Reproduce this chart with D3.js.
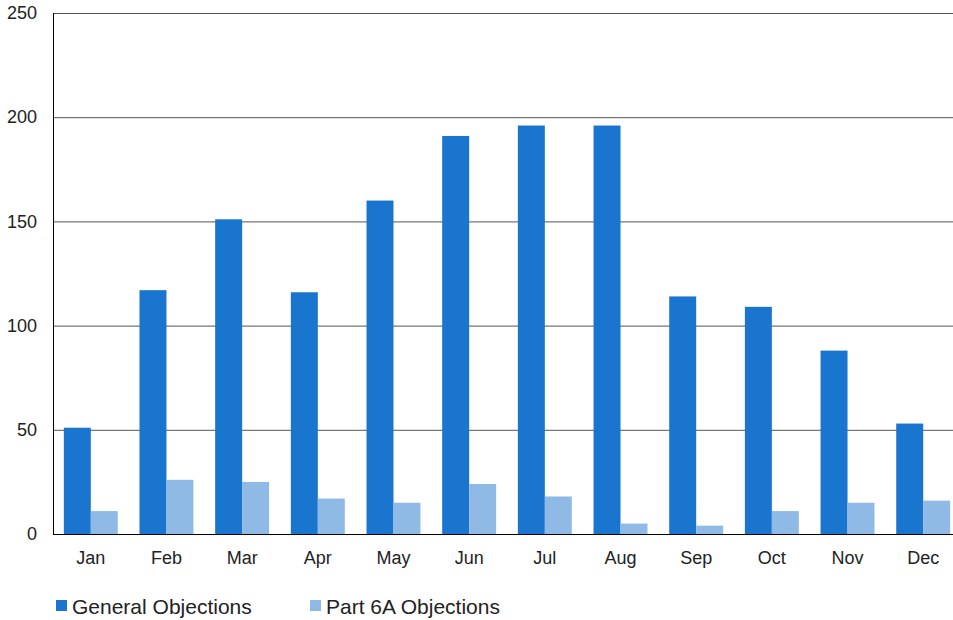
<!DOCTYPE html>
<html><head><meta charset="utf-8">
<script src="https://cdn.jsdelivr.net/npm/d3@7"></script>
<style>body{margin:0;background:#fff}svg{display:block;font-family:"Liberation Sans",Arial,sans-serif}</style>
</head><body><svg id="c" width="953" height="620"></svg>
<script>
const months = ["Jan","Feb","Mar","Apr","May","Jun","Jul","Aug","Sep","Oct","Nov","Dec"];
const generalObjections = [51,117,151,116,160,191,196,196,114,109,88,53];
const part6AObjections = [11,26,25,17,15,24,18,5,4,11,15,16];
const seriesNames = ["General Objections","Part 6A Objections"];
const seriesColors = ["#1a75cf","#8fbae6"];
const yTicks = [0,50,100,150,200,250];

const svg = d3.select("#c");
const L = 53, R = 961, T = 13, B = 534;
const x = d3.scaleBand().domain(months).range([L, R]).paddingInner(0.287).paddingOuter(0.143);
const xs = d3.scaleBand().domain(seriesNames).range([0, x.bandwidth()]);
const y = d3.scaleLinear().domain([0,250]).range([B, T]);

// grid
svg.append("g").selectAll("line").data(yTicks.filter(d=>d>0)).join("line")
  .attr("x1", L).attr("x2", R).attr("y1", d=>y(d)+0.5).attr("y2", d=>y(d)+0.5)
  .attr("stroke", "#555").attr("stroke-width", 1);

// y axis labels
const ya = svg.append("g").attr("transform", `translate(${L},0)`)
  .call(d3.axisLeft(y).tickValues(yTicks).tickSize(0).tickPadding(16));
ya.select(".domain").remove();
ya.selectAll("text").attr("font-size", 18).attr("fill", "#222").attr("font-family", "Liberation Sans, Arial, sans-serif");

const data = [generalObjections, part6AObjections];
const g = svg.append("g");
months.forEach((m, i) => {
  seriesNames.forEach((s, j) => {
    g.append("rect")
      .attr("x", x(m) + xs(s)).attr("width", xs.bandwidth())
      .attr("y", y(data[j][i])).attr("height", B - y(data[j][i]))
      .attr("fill", seriesColors[j]);
  });
});

// axes lines
svg.append("line").attr("x1", L+0.5).attr("x2", L+0.5).attr("y1", T).attr("y2", B+1).attr("stroke", "#000");
svg.append("line").attr("x1", L).attr("x2", R).attr("y1", B+0.5).attr("y2", B+0.5).attr("stroke", "#000");

// x labels
const xa = svg.append("g").attr("transform", `translate(0,${B})`)
  .call(d3.axisBottom(x).tickSize(0).tickPadding(17));
xa.select(".domain").remove();
xa.selectAll("text").attr("font-size", 18).attr("fill", "#222").attr("font-family", "Liberation Sans, Arial, sans-serif");

// legend
const legX = [56, 310];
seriesNames.forEach((s, j) => {
  svg.append("rect").attr("x", legX[j]).attr("y", 600).attr("width", 11).attr("height", 11).attr("fill", seriesColors[j]);
  svg.append("text").attr("x", legX[j] + 16).attr("y", 614).attr("font-size", 21).attr("fill", "#222").text(s);
});
</script></body></html>
